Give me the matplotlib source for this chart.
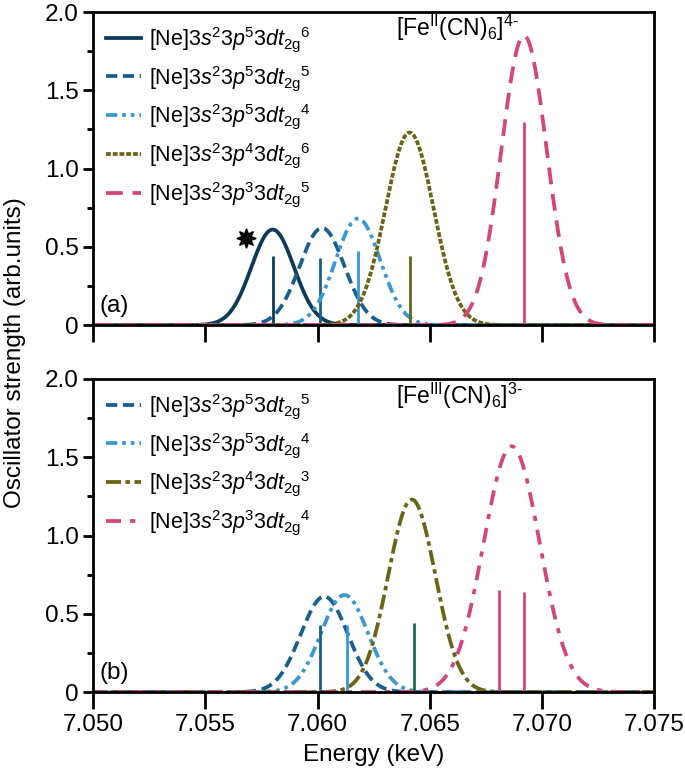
import numpy as np
import matplotlib
matplotlib.use("Agg")
import matplotlib.pyplot as plt
from matplotlib.ticker import MultipleLocator, FuncFormatter

plt.rcParams['font.family'] = ['Liberation Sans', 'DejaVu Sans']
plt.rcParams['mathtext.fontset'] = 'custom'
plt.rcParams['mathtext.rm'] = 'Liberation Sans'
plt.rcParams['mathtext.it'] = 'Liberation Sans:italic'
plt.rcParams['mathtext.bf'] = 'Liberation Sans:bold'

# ---- panel (a): [Fe(II)(CN)6]4- ----
a_labels = [r'[Ne]3$\it{s}$$^2$3$\it{p}$$^5$3$\it{dt}_{\rm 2g}$$^6$',
            r'[Ne]3$\it{s}$$^2$3$\it{p}$$^5$3$\it{dt}_{\rm 2g}$$^5$',
            r'[Ne]3$\it{s}$$^2$3$\it{p}$$^5$3$\it{dt}_{\rm 2g}$$^4$',
            r'[Ne]3$\it{s}$$^2$3$\it{p}$$^4$3$\it{dt}_{\rm 2g}$$^6$',
            r'[Ne]3$\it{s}$$^2$3$\it{p}$$^3$3$\it{dt}_{\rm 2g}$$^5$']
a_centers = [7.0580, 7.0602, 7.0618, 7.0641, 7.0692]
a_heights = [0.61, 0.62, 0.68, 1.23, 1.85]
a_sigmas = [0.00095, 0.00100, 0.00100, 0.00107, 0.00101]
a_stick_pos = [7.0580, 7.0601, 7.0618, 7.0641, 7.0692]
a_stick_h = [0.44, 0.43, 0.47, 0.44, 1.30]

# ---- panel (b): [Fe(III)(CN)6]3- ----
b_labels = [r'[Ne]3$\it{s}$$^2$3$\it{p}$$^5$3$\it{dt}_{\rm 2g}$$^5$',
            r'[Ne]3$\it{s}$$^2$3$\it{p}$$^5$3$\it{dt}_{\rm 2g}$$^4$',
            r'[Ne]3$\it{s}$$^2$3$\it{p}$$^4$3$\it{dt}_{\rm 2g}$$^3$',
            r'[Ne]3$\it{s}$$^2$3$\it{p}$$^3$3$\it{dt}_{\rm 2g}$$^4$']
b_centers = [7.0603, 7.0612, 7.0642, 7.06865]
b_heights = [0.61, 0.62, 1.23, 1.57]
b_sigmas = [0.00105, 0.00105, 0.00105, 0.00125]
b_stick_pos = [7.0601, 7.0613, 7.0643, 7.0681, 7.0692]
b_stick_h = [0.43, 0.43, 0.44, 0.65, 0.64]

navy = '#0c3a5b'
blue = '#175f8e'
lblue = '#3a97d0'
olive = '#6b6316'
pink = '#d3457b'
green = '#1c6b50'

a_colors = [navy, blue, lblue, olive, pink]
a_styles = ['-', (0, (3, 1.5)), (0, (3, 1.3, 1, 1.3, 1, 1.3)), (0, (1.3, 0.5)), (0, (4.5, 2.6))]
b_colors = [blue, lblue, olive, pink]
b_styles = [(0, (3, 1.5)), (0, (3, 1.3, 1, 1.3, 1, 1.3)), (0, (4, 1.2, 1.2, 1.2)), (0, (4, 2.4, 1.4, 2.4))]
b_stick_colors = [blue, lblue, green, pink, pink]

x = np.linspace(7.050, 7.075, 1500)

fig = plt.figure(figsize=(6.85, 7.75), dpi=100)
ax1 = fig.add_axes([0.136, 0.5806, 0.819, 0.4039])
ax2 = fig.add_axes([0.136, 0.107, 0.819, 0.404])

for i in range(len(a_labels)):
    y = a_heights[i] * np.exp(-(x - a_centers[i]) ** 2 / (2 * a_sigmas[i] ** 2))
    ax1.plot(x, y, color=a_colors[i], ls=a_styles[i], lw=2.7, label=a_labels[i])
    ax1.vlines(a_stick_pos[i], 0, a_stick_h[i], color=a_colors[i], lw=2)

for i in range(len(b_labels)):
    y = b_heights[i] * np.exp(-(x - b_centers[i]) ** 2 / (2 * b_sigmas[i] ** 2))
    ax2.plot(x, y, color=b_colors[i], ls=b_styles[i], lw=2.7, label=b_labels[i])
for i in range(len(b_stick_pos)):
    ax2.vlines(b_stick_pos[i], 0, b_stick_h[i], color=b_stick_colors[i], lw=2)

# star marking the first peak
ax1.plot([7.0568], [0.555], marker=(8, 1, 0), ms=14, color='black', ls='none')

ax1.text(7.0635, 1.90, r'[Fe$^{\rm II}$(CN)$_6$]$^{4\text{-}}$', fontsize=16.5, va='center')
ax2.text(7.0635, 1.89, r'[Fe$^{\rm III}$(CN)$_6$]$^{3\text{-}}$', fontsize=16.5, va='center')
ax1.text(7.0503, 0.12, '(a)', fontsize=17.5, va='center')
ax2.text(7.0503, 0.12, '(b)', fontsize=17.5, va='center')

fmt = FuncFormatter(lambda v, p: '0' if abs(v) < 1e-9 else f'{v:.1f}')
for ax in (ax1, ax2):
    ax.set_xlim(7.050, 7.075)
    ax.set_ylim(0, 2.0)
    ax.xaxis.set_major_locator(MultipleLocator(0.005))
    ax.yaxis.set_major_locator(MultipleLocator(0.5))
    ax.yaxis.set_minor_locator(MultipleLocator(0.25))
    ax.yaxis.set_major_formatter(fmt)
    for s in ax.spines.values():
        s.set_linewidth(2)
    ax.tick_params(axis='x', direction='out', length=12, width=2, labelsize=17.5)
    ax.tick_params(axis='y', which='major', direction='out', length=7, width=2, labelsize=17.5)
    ax.tick_params(axis='y', which='minor', direction='out', length=4, width=2)
    ax.legend(loc='upper left', frameon=False, fontsize=15.5, handlelength=1.6,
              labelspacing=0.45, borderaxespad=0.2, handletextpad=0.4)

ax1.tick_params(axis='x', labelbottom=False)
ax2.xaxis.set_major_formatter(FuncFormatter(lambda v, p: f'{v:.3f}'))
ax2.set_xlabel('Energy (keV)', fontsize=17.5, labelpad=6)
fig.text(0.022, 0.545, 'Oscillator strength (arb.units)', rotation=90,
         fontsize=17.5, va='center', ha='center')

fig.savefig('out.png', dpi=100)
